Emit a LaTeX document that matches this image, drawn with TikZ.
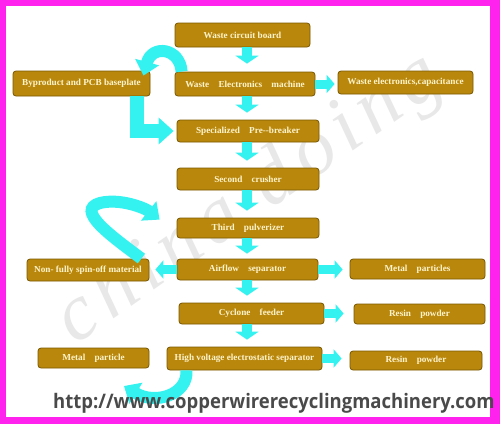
\documentclass[tikz,border=0pt]{standalone}
\usepackage{fontspec}
\setmainfont{Liberation Serif}
\newfontfamily\urlfont{Open Sans}
\usetikzlibrary{arrows.meta}
\definecolor{gold}{HTML}{B8870C}
\definecolor{golddark}{HTML}{7A5800}
\definecolor{cream}{HTML}{FFF4CC}
\definecolor{aqua}{HTML}{33F2F0}
\definecolor{frame}{HTML}{FF22EE}
\definecolor{urlgray}{HTML}{4A4A4A}

\begin{document}
\begin{tikzpicture}[x=1pt,y=-1pt]
    %
    % `stage' is used for the process boxes.
    % `flow', `sideflow', `bigflow' and `curlflow' are the cyan block arrows.
    \tikzstyle{stage} = [draw=golddark,fill=gold,rounded corners=3pt,line width=0.8pt,text=cream,inner sep=0pt,font=\bfseries\fontsize{9.2}{10}\selectfont]
    \tikzstyle{flow} = [aqua,line width=10pt,-{Triangle[width=23pt,length=8pt]}]
    \tikzstyle{sideflow} = [aqua,line width=9pt,-{Triangle[width=18pt,length=8pt]}]
    \tikzstyle{bigflow} = [aqua,line width=14pt,-{Triangle[width=26pt,length=15pt]}]
    \tikzstyle{curlflow} = [aqua,line width=12pt,-{Triangle[width=24pt,length=14pt]}]
    %
    % Frame and watermark
    \useasboundingbox (0,0) rectangle (500,424);
    \fill[frame] (0,0) rectangle (500,424);
    \fill[white] (6,6) rectangle (490,417);
    \node[rotate=35,text=black!9,font=\itshape\fontsize{80}{80}\selectfont\addfontfeature{LetterSpace=10}] (mark) at (250,200) {china doing};
    %
    % Main column
    \node[stage,minimum width=135pt,minimum height=24pt] (wcb) at (242.5,35) {Waste circuit board};
    \node[stage,minimum width=140pt,minimum height=24pt] (wem) at (245,84) {Waste\quad Electronics\quad machine};
    \node[stage,minimum width=142pt,minimum height=22pt] (spb) at (248,131) {Specialized\quad Pre-{}-breaker};
    \node[stage,minimum width=142pt,minimum height=22pt] (scr) at (248,179) {Second\quad crusher};
    \node[stage,minimum width=142pt,minimum height=20pt] (tpu) at (248,228) {Third\quad pulverizer};
    \node[stage,minimum width=141pt,minimum height=21pt] (afs) at (247.5,269.5) {Airflow\quad separator};
    \node[stage,minimum width=145pt,minimum height=21pt] (cyf) at (251.5,313.5) {Cyclone\quad feeder};
    \node[stage,minimum width=155pt,minimum height=23pt] (hve) at (244.5,358.5) {High voltage electrostatic separator};
    %
    % Side boxes
    \node[stage,minimum width=137pt,minimum height=25pt] (bpb) at (81.5,83.5) {Byproduct and PCB baseplate};
    \node[stage,minimum width=135pt,minimum height=23pt] (wec) at (405.5,82.5) {Waste electronics,capacitance};
    \node[stage,minimum width=122pt,minimum height=22pt] (nfs) at (88,270) {Non- fully spin-off material};
    \node[stage,minimum width=135pt,minimum height=20pt] (mps) at (417.5,269) {Metal\quad particles};
    \node[stage,minimum width=131pt,minimum height=20pt] (rp1) at (419.5,314) {Resin\quad powder};
    \node[stage,minimum width=111pt,minimum height=20pt] (mpl) at (93.5,358) {Metal\quad particle};
    \node[stage,minimum width=132pt,minimum height=19pt] (rp2) at (416,360.5) {Resin\quad powder};
    %
    % Down arrows
    \coordinate (axis) at (247,0);
    \draw[flow,shorten >=8pt] (wcb.south -| axis) -- (wem.north -| axis);
    \draw[flow,shorten >=7pt] (wem.south -| axis) -- (spb.north -| axis);
    \draw[flow,shorten >=7pt] (spb.south -| axis) -- (scr.north -| axis);
    \draw[flow,shorten >=7pt] (scr.south -| axis) -- (tpu.north -| axis);
    \draw[flow,shorten >=5pt] (tpu.south -| axis) -- (afs.north -| axis);
    \draw[flow,shorten >=7pt] (afs.south -| axis) -- (cyf.north -| axis);
    \draw[flow,shorten >=7pt] (cyf.south -| axis) -- (hve.north -| axis);
    %
    % Side arrows
    \draw[sideflow,shorten >=3pt] (wem.east) -- (wem.east -| wec.west);
    \draw[sideflow,shorten >=6pt] (afs.west) -- (afs.west -| nfs.east);
    \draw[sideflow,shorten >=7pt] (afs.east) -- (afs.east -| mps.west);
    \draw[sideflow,shorten >=10pt] (cyf.east) -- (cyf.east -| rp1.west);
    \draw[sideflow,shorten >=8pt] (hve.east) -- (hve.east -| rp2.west);
    \draw[bigflow,shorten >=3pt] ([xshift=55pt]bpb.south) |- (spb.west);
    %
    % Curled arrows
    \coordinate (back) at (124,386);
    \draw[curlflow] ([xshift=7pt]wem.north west) .. controls (180,48) and (152,44) .. ([xshift=-7pt,yshift=-5pt]bpb.north east);
    \draw[curlflow] ([xshift=-8pt]nfs.north east) .. controls (110,235) and (75,210) .. (100,203) .. controls (120,198) and (145,208) .. ([xshift=-17pt,yshift=-2pt]tpu.north west);
    \draw[curlflow] ([xshift=-58pt]hve.south) .. controls (188,395) and (155,405) .. (back);
    %
    % Web address
    \node[anchor=base west,text=urlgray,inner sep=0pt,font=\urlfont\bfseries\fontsize{20}{20}\selectfont] (url) at (53,408) {\scalebox{0.925}[1]{http://www.copperwirerecyclingmachinery.com}};
    %
\end{tikzpicture}
\end{document}
